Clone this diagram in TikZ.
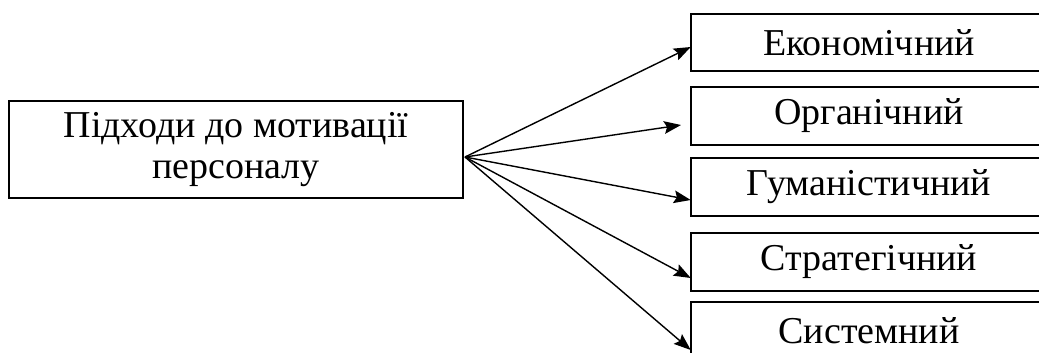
\documentclass[tikz,border=0pt]{standalone}
\usepackage{fontspec}
\setmainfont{Liberation Serif}
\usetikzlibrary{arrows.meta, positioning, calc}

\begin{document}
\begin{tikzpicture}[
    x=0.025cm, y=-0.025cm,
    every node/.style={font=\fontsize{27}{29}\selectfont},
    block/.style={rectangle, draw=black, fill=white, line width=1.3pt,
                  minimum width=454*0.025cm, minimum height=97*0.025cm, align=center},
    kind/.style={rectangle, minimum width=356*0.025cm, minimum height=57*0.025cm, align=center},
    frame/.style={line width=1.3pt},
    arr/.style={-{Stealth[length=12pt, width=9pt, inset=2pt]}, line width=1pt},
]
\useasboundingbox (0,0) rectangle (1039,353);
\clip (0,0) rectangle (1039,353);
\fill[white] (0,0) rectangle (1039,353);

\node[block] (main) at (236,149.5) {Підходи до мотивації\\персоналу};

\node[kind] (k1) at (869,42.5) {Економічний};
\node[kind] (k2) at (869,116) {Органічний};
\node[kind] (k3) at (869,187) {Гуманістичний};
\node[kind] (k4) at (869,262) {Стратегічний};
\node[kind] (k5) at (869,330.5) {Системний};

% boxes run past the right edge, so no right side
\foreach \i in {1,...,5}
    \draw[frame] (k\i.north east) -- (k\i.north west) -- (k\i.south west) -- (k\i.south east);

% start point and arrow ends
\coordinate (hub) at (465,157);
\coordinate (e1) at ($(k1.west)+(0,4.5)$);
\coordinate (e2) at (681,125);
\coordinate (e3) at ($(k3.west)+(0,13)$);
\coordinate (e4) at ($(k4.west)+(0,16)$);
\coordinate (e5) at ($(k5.west)+(0,19.5)$);

\foreach \i in {1,...,5}
    \draw[arr] (hub) -- (e\i);

\end{tikzpicture}
\end{document}
